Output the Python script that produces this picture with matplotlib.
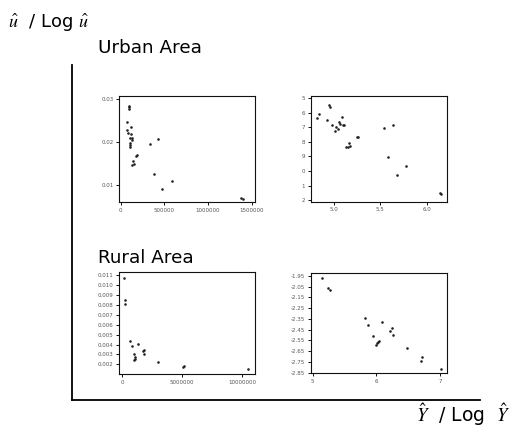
import matplotlib
matplotlib.use("Agg")
import matplotlib.pyplot as plt
from matplotlib.lines import Line2D

plt.rcParams['mathtext.fontset'] = 'stix'
plt.rcParams['font.family'] = ['DejaVu Sans']

# Urban area: u-hat vs Y-hat
urban_x = [91600, 91600, 91600, 68700, 68700, 87800, 122000, 114500, 103000, 126000,
           130000, 107000, 107000, 103000, 183000, 176000, 145000, 149000, 134000,
           340000, 427000, 382000, 477000, 592000, 1382000, 1405000]
urban_y = [0.02845, 0.0281, 0.0277, 0.0247, 0.0229, 0.0222, 0.0234, 0.0218, 0.0209, 0.0209,
           0.0206, 0.0199, 0.0193, 0.0189, 0.0170, 0.0168, 0.0156, 0.0150, 0.0147,
           0.0196, 0.0207, 0.0125, 0.0092, 0.0109, 0.0071, 0.0069]

# Urban area: log u-hat vs log Y-hat
urban_logx = [4.813, 4.842, 4.921, 4.946, 4.957, 4.975, 5.022, 5.014, 5.040, 5.058,
              5.065, 5.086, 5.101, 5.108, 5.133, 5.147, 5.165, 5.176, 5.252, 5.259,
              5.540, 5.633, 5.579, 5.680, 5.781, 6.144, 6.151]
urban_logy = [-1.638, -1.608, -1.649, -1.546, -1.557, -1.683, -1.695, -1.725, -1.711, -1.661,
              -1.679, -1.631, -1.683, -1.683, -1.835, -1.835, -1.805, -1.828, -1.768, -1.768,
              -1.706, -1.686, -1.906, -2.030, -1.963, -2.149, -2.156]

# Rural area: u-hat vs Y-hat
rural_x = [194000, 222000, 222000, 694000, 806000, 1333000, 972000, 1111000, 1056000, 1028000,
           1722000, 1833000, 1861000, 3028000, 5083000, 5167000, 10528000]
rural_y = [0.01066, 0.00852, 0.00811, 0.00439, 0.00382, 0.00402, 0.00301, 0.00272, 0.00258, 0.00248,
           0.00335, 0.00348, 0.00305, 0.00228, 0.00174, 0.00187, 0.00150]

# Rural area: log u-hat vs log Y-hat
rural_logx = [5.153, 5.247, 5.268, 5.816, 5.868, 5.953, 6.095, 6.221, 6.253, 6.258,
              5.989, 6.005, 6.026, 6.042, 6.479, 6.716, 6.705, 7.011]
rural_logy = [-1.966, -2.065, -2.084, -2.344, -2.410, -2.506, -2.382, -2.462, -2.438, -2.503,
              -2.593, -2.571, -2.562, -2.556, -2.624, -2.708, -2.742, -2.820]

tl_xticks = [0, 500000, 1000000, 1500000]
tl_yticks = [0.01, 0.02, 0.03]
tl_yticklabels = ['0.01', '0.02', '0.03']
tr_xticks = [5.0, 5.5, 6.0]
tr_xticklabels = ['5.0', '5.5', '6.0']
tr_yticks = [-1.5, -1.6, -1.7, -1.8, -1.9, -2.0, -2.1, -2.2]
tr_yticklabels = ['5', '6', '7', '8', '9', '0', '1', '2']
bl_xticks = [0, 5000000, 10000000]
bl_yticks = [0.011, 0.010, 0.009, 0.008, 0.007, 0.006, 0.005, 0.004, 0.003, 0.002]
bl_yticklabels = ['0.011', '0.010', '0.009', '0.008', '0.007', '0.006', '0.005', '0.004', '0.003', '0.002']
br_xticks = [5, 6, 7]
br_yticks = [-1.95, -2.05, -2.15, -2.25, -2.35, -2.45, -2.55, -2.65, -2.75, -2.85]
br_yticklabels = ['-1.95', '-2.05', '-2.15', '-2.25', '-2.35', '-2.45', '-2.55', '-2.65', '-2.75', '-2.85']

W, H = 511, 429
fig = plt.figure(figsize=(W / 100, H / 100), dpi=100)
fig.patch.set_facecolor('white')


def add_ax(l, t, r, b):
    return fig.add_axes([l / W, 1 - b / H, (r - l) / W, (b - t) / H])


def style(ax):
    for s in ax.spines.values():
        s.set_linewidth(0.8)
        s.set_color('#111111')
    ax.tick_params(axis='both', length=2.5, width=0.7, labelsize=4, labelcolor='#555555',
                   color='#111111', pad=1.5)


pt = dict(marker='o', s=3.5, color='#222222', linewidths=0)

ax1 = add_ax(119, 96, 255, 202)
ax1.scatter(urban_x, urban_y, **pt)
ax1.set_xlim(-20000, 1540000)
ax1.set_ylim(0.0061, 0.0307)
ax1.set_xticks(tl_xticks)
ax1.set_xticklabels([str(v) for v in tl_xticks])
ax1.set_yticks(tl_yticks)
ax1.set_yticklabels(tl_yticklabels)
style(ax1)

ax2 = add_ax(310.7, 95.7, 446.7, 201.7)
ax2.scatter(urban_logx, urban_logy, **pt)
ax2.set_xlim(4.748, 6.216)
ax2.set_ylim(-2.211, -1.482)
ax2.set_xticks(tr_xticks)
ax2.set_xticklabels(tr_xticklabels)
ax2.set_yticks(tr_yticks)
ax2.set_yticklabels(tr_yticklabels)
style(ax2)

ax3 = add_ax(119.3, 272.3, 255, 374)
ax3.scatter(rural_x, rural_y, **pt)
ax3.set_xlim(-222000, 11080000)
ax3.set_ylim(0.00103, 0.01127)
ax3.set_xticks(bl_xticks)
ax3.set_xticklabels([str(v) for v in bl_xticks])
ax3.set_yticks(bl_yticks)
ax3.set_yticklabels(bl_yticklabels)
style(ax3)

ax4 = add_ax(310.7, 273.3, 446.7, 373.3)
ax4.scatter(rural_logx, rural_logy, **pt)
ax4.set_xlim(4.968, 7.105)
ax4.set_ylim(-2.857, -1.925)
ax4.set_xticks(br_xticks)
ax4.set_xticklabels([str(v) for v in br_xticks])
ax4.set_yticks(br_yticks)
ax4.set_yticklabels(br_yticklabels)
style(ax4)

# big L-shaped frame
fig.add_artist(Line2D([72 / W, 72 / W], [1 - 65 / H, 1 - 400 / H],
                      transform=fig.transFigure, color='black', linewidth=1.3))
fig.add_artist(Line2D([72 / W, 480 / W], [1 - 400 / H, 1 - 400 / H],
                      transform=fig.transFigure, color='black', linewidth=1.3))

fig.text(8 / W, 1 - 28 / H, r'$\hat{u}$  / Log $\hat{u}$', fontsize=13, va='baseline', ha='left')
fig.text(98 / W, 1 - 53 / H, 'Urban Area', fontsize=13.2, va='baseline', ha='left')
fig.text(98 / W, 1 - 263 / H, 'Rural Area', fontsize=13.2, va='baseline', ha='left')
fig.text(416 / W, 1 - 422 / H, r'$\hat{Y}$  / Log  $\hat{Y}$', fontsize=13.5, va='baseline', ha='left')

fig.savefig('out.png', dpi=100, facecolor='white')
